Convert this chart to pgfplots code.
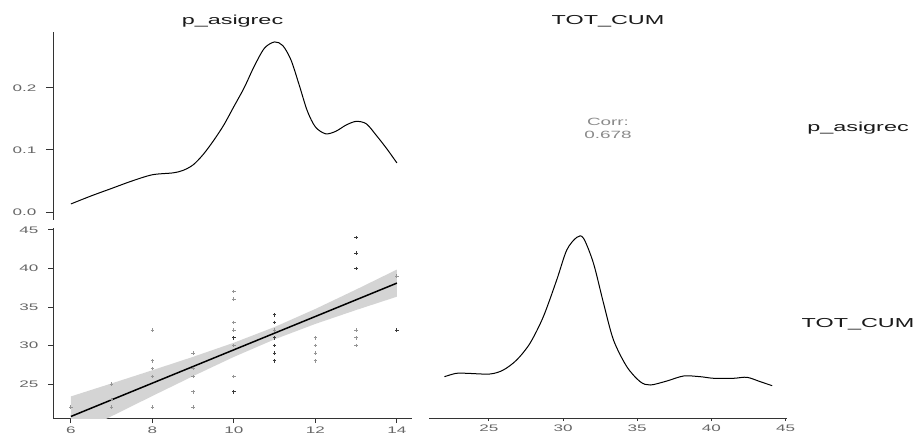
\documentclass[border=0pt]{standalone}
\usepackage{pgfplots}
\pgfplotsset{compat=1.18}
\usepackage{fontspec}
\setmainfont[FakeStretch=1.8]{Liberation Sans}
\definecolor{axisgray}{HTML}{333333}
\definecolor{ticklab}{HTML}{666666}
\definecolor{bandgray}{HTML}{D4D4D4}
\definecolor{striptext}{HTML}{1A1A1A}
\definecolor{corrtext}{HTML}{8A8A8A}
\definecolor{ptlight}{HTML}{959595}
\definecolor{ptdark}{HTML}{3A3A3A}
\pgfplotsset{
  base/.style={scale only axis, axis line style={axisgray, line width=0.9pt},
    tick style={axisgray, line width=0.9pt}, tick align=outside,
    tick label style={font=\fontsize{9.5}{9.5}\selectfont, text=ticklab},
    yticklabel style={xshift=-6pt},
    /pgf/number format/assume math mode=true, clip=true}
}
\begin{document}
\begin{tikzpicture}
\useasboundingbox (0,0) rectangle (919pt,437pt);
% top-left: density of p_asigrec
\begin{axis}[base, at={(53pt,217pt)}, anchor=south west, width=359pt, height=188pt,
  xmin=5.56, xmax=14.37, ymin=-0.0129, ymax=0.290,
  axis x line=none, axis y line*=left, ytick={0,0.1,0.2},
  yticklabel style={/pgf/number format/.cd, fixed, fixed zerofill, precision=1},
  major tick length=7pt]
\addplot[black, line width=1pt, smooth, tension=0.5] coordinates {
(6.0,0.013) (6.5,0.026) (7.0,0.038) (7.5,0.050) (8.0,0.060) (8.5,0.063) (8.75,0.067)
(9.0,0.076) (9.25,0.093) (9.5,0.115) (9.75,0.140) (10.0,0.170) (10.25,0.200) (10.5,0.235)
(10.75,0.264) (11.0,0.274) (11.2,0.268) (11.4,0.245) (11.6,0.205) (11.8,0.163) (12.0,0.137)
(12.25,0.126) (12.5,0.130) (12.75,0.140) (13.0,0.146) (13.25,0.142) (13.5,0.123) (13.75,0.102) (14.0,0.079)};
\end{axis}
% bottom-left: scatter
\begin{axis}[base, at={(53pt,19pt)}, anchor=south west, width=359pt, height=190pt,
  xmin=5.56, xmax=14.37, ymin=20.6, ymax=45.25,
  axis x line*=bottom, axis y line*=left,
  xtick={6,8,10,12,14}, ytick={25,30,35,40,45},
  major tick length=5pt]
\addplot[fill=bandgray, draw=none] coordinates {
(6,23.40) (7,25.09) (8,26.80) (9,28.54) (10,30.37) (11,32.41) (12,34.75) (13,37.27) (14,39.86)
(14,36.34) (13,34.61) (12,32.81) (11,30.81) (10,28.53) (9,26.04) (8,23.46) (7,20.84) (6,18.20)};
\addplot[only marks, mark=+, mark size=1.8pt, ptlight, mark options={line width=1pt}] coordinates {
(6,22) (7,25) (7,23) (7,22) (8,32) (8,28) (8,27) (8,26) (8,22)
(9,29) (9,27) (9,26) (9,24) (9,22)
(10,37) (10,36) (10,33) (10,32) (10,30) (10,26)
(11,32) (12,31) (12,30) (12,29) (12,28)
(13,32) (13,31) (13,30) (14,39)};
\addplot[only marks, mark=+, mark size=1.8pt, ptdark, mark options={line width=1pt}] coordinates {
(10,31) (10,24) (11,34) (11,33) (11,31) (11,30) (11,29) (11,28)
(13,44) (13,42) (13,40) (14,32)};
\addplot[black, line width=1.5pt] coordinates {(6,20.80) (14,38.10)};
\end{axis}
% bottom-right: density of TOT_CUM
\begin{axis}[base, at={(429pt,19pt)}, anchor=south west, width=358pt, height=190pt,
  xmin=20.96, xmax=45.1, ymin=0, ymax=190,
  axis x line*=bottom, axis y line=none,
  xtick={25,30,35,40,45}, major tick length=3pt]
\addplot[black, line width=1pt, smooth, tension=0.5] coordinates {
(22.0,41.3) (22.8,44.7) (23.5,44.7) (25.07,44) (25.97,48) (26.87,58) (27.77,74.7)
(28.67,101.3) (29.57,138) (30.25,168) (30.93,180.7) (31.38,179.7) (32.05,154.7)
(32.73,114.7) (33.40,78) (34.3,51.3) (35.2,36.3) (35.88,33) (37.0,37) (38.13,42)
(39.26,41.3) (40.16,39.7) (41.5,39.7) (42.4,40.7) (43.3,36.3) (44.1,32.3)};
\end{axis}
% strip labels
\node[font=\fontsize{13}{13}\selectfont, text=striptext] at (232.5pt,416pt) {p\_asigrec};
\node[font=\fontsize{13}{13}\selectfont, text=striptext] at (608pt,416pt) {TOT\_CUM};
\node[font=\fontsize{13}{13}\selectfont, text=striptext] at (858pt,309pt) {p\_asigrec};
\node[font=\fontsize{13}{13}\selectfont, text=striptext] at (858pt,113pt) {TOT\_CUM};
% correlation
\node[font=\fontsize{10.5}{13}\selectfont, text=corrtext, align=center] at (608pt,309pt) {Corr:\\0.678};
\end{tikzpicture}
\end{document}
